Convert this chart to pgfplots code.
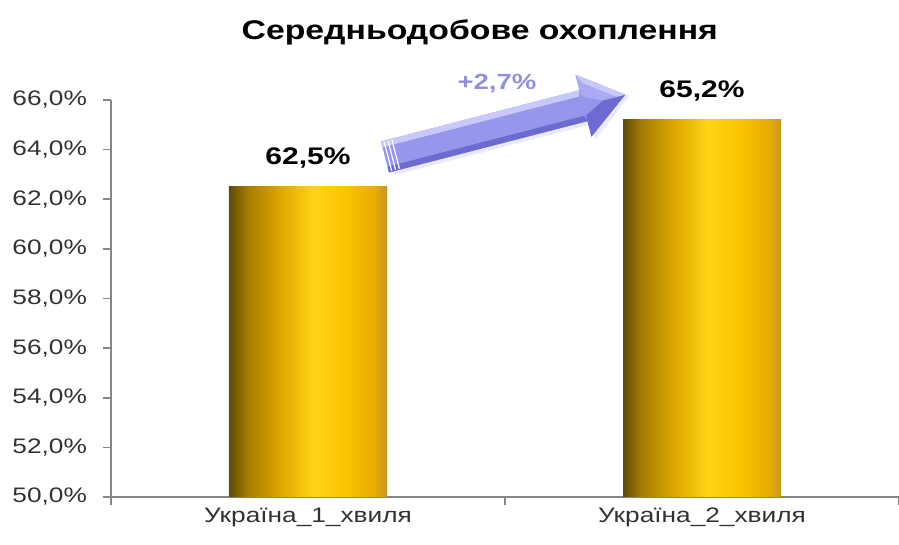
\documentclass[border=0pt]{standalone}
\usepackage{fontspec}
\setmainfont{Liberation Sans}[FakeStretch=1.25]
\usepackage{pgfplots}
\pgfplotsset{compat=1.18}
\definecolor{axgray}{RGB}{134,134,134}
\definecolor{lblgray}{RGB}{50,50,50}
\definecolor{arrtxt}{RGB}{145,145,220}
\definecolor{arrlight}{RGB}{200,200,250}
\definecolor{arrmid}{RGB}{150,150,236}
\definecolor{arrmid2}{RGB}{170,170,244}
\definecolor{arrdark}{RGB}{108,108,208}
\pgfdeclarehorizontalshading{goldbar}{100bp}{
 color(0bp)=(rgb,255:red,95;green,75;blue,10);
 color(25bp)=(rgb,255:red,95;green,75;blue,10);
 color(31bp)=(rgb,255:red,165;green,125;blue,0);
 color(42bp)=(rgb,255:red,225;green,170;blue,0);
 color(52bp)=(rgb,255:red,255;green,212;blue,22);
 color(62bp)=(rgb,255:red,250;green,196;blue,0);
 color(71bp)=(rgb,255:red,232;green,172;blue,0);
 color(75bp)=(rgb,255:red,195;green,150;blue,40);
 color(100bp)=(rgb,255:red,195;green,150;blue,40)}
\begin{document}
\begin{tikzpicture}
\useasboundingbox (-55.5pt,-24pt) rectangle (394pt,248.5pt);
\begin{axis}[
  at={(0,0)}, anchor=south west,
  scale only axis, width=394pt, height=198.5pt,
  xmin=-0.5, xmax=1.5, ymin=50, ymax=66,
  axis x line*=bottom, axis y line*=left,
  axis line style={axgray, line width=0.8pt},
  ytick={50,52,...,66},
  ytick style={axgray, line width=0.8pt},
  tick align=outside, major tick length=4pt,
  /pgf/number format/fixed, /pgf/number format/fixed zerofill,
  /pgf/number format/precision=1, /pgf/number format/use comma,
  /pgf/number format/assume math mode=true,
  yticklabel style={font=\fontsize{10.5}{12}\selectfont, text=lblgray},
  yticklabel={\pgfmathprintnumber{\tick}\%},
  yticklabel shift=4.5pt,
  xtick={-0.5,0.5,1.5}, xticklabels={},
  xtick style={axgray, line width=0.8pt},
  extra x ticks={0,1},
  extra x tick labels={Україна\_1\_хвиля, Україна\_2\_хвиля},
  extra x tick style={major tick length=0pt,
     xticklabel style={font=\fontsize{10.5}{12}\selectfont, text=lblgray, yshift=-2pt}},
  title={\textbf{Середньодобове охоплення}},
  title style={at={(0.468,1)}, anchor=base, yshift=24pt, font=\fontsize{13.5}{15}\selectfont},
  clip=false,
  nodes near coords={\pgfmathprintnumber{\pgfplotspointmeta}\%},
  nodes near coords style={font=\bfseries\fontsize{12}{14}\selectfont, text=black, yshift=6pt},
]
\addplot[ybar, bar width=79pt, bar shift=0pt, draw=none, shading=goldbar] coordinates {(0,62.5)};
\addplot[ybar, bar width=79pt, bar shift=0pt, draw=none, shading=goldbar] coordinates {(1,65.2)};
\end{axis}
\begin{scope}[shift={(-55.5pt,248.5pt)}, x=0.5pt, y=-0.5pt]
  \begin{scope}[shift={(385,157)}, rotate=14.5]
    \fill[arrdark!40, opacity=0.35] (4,-14) -- (208,-14) -- (208,-30) -- (252,2) -- (208,36) -- (208,20) -- (4,20) -- cycle;
    \fill[arrmid] (0,-16) -- (205,-16) -- (205,-32) -- (248,0) -- (205,32) -- (205,16) -- (0,16) -- cycle;
    \fill[arrlight] (0,-16) -- (205,-16) -- (203,-10) -- (0,-10) -- cycle;
    \fill[arrdark] (0,10) -- (203,10) -- (205,16) -- (0,16) -- cycle;
    \fill[arrmid2] (205,-32) -- (248,0) -- (205,0) -- cycle;
    \fill[arrlight] (205,-32) -- (248,0) -- (240,0) -- (210,-22) -- cycle;
    \fill[arrdark] (205,0) -- (248,0) -- (205,32) -- cycle;
    \fill[arrmid] (205,-10) -- (225,0) -- (205,10) -- cycle;
    \draw[white, line width=0.6pt] (3,-15) -- (3,15);
    \draw[white, line width=0.6pt] (7,-15) -- (7,15);
    \draw[white, line width=0.6pt] (11,-15) -- (11,15);
  \end{scope}
  \node[font=\bfseries\fontsize{11}{13}\selectfont, text=arrtxt] at (497,84) {+2,7\%};
\end{scope}
\end{tikzpicture}
\end{document}
